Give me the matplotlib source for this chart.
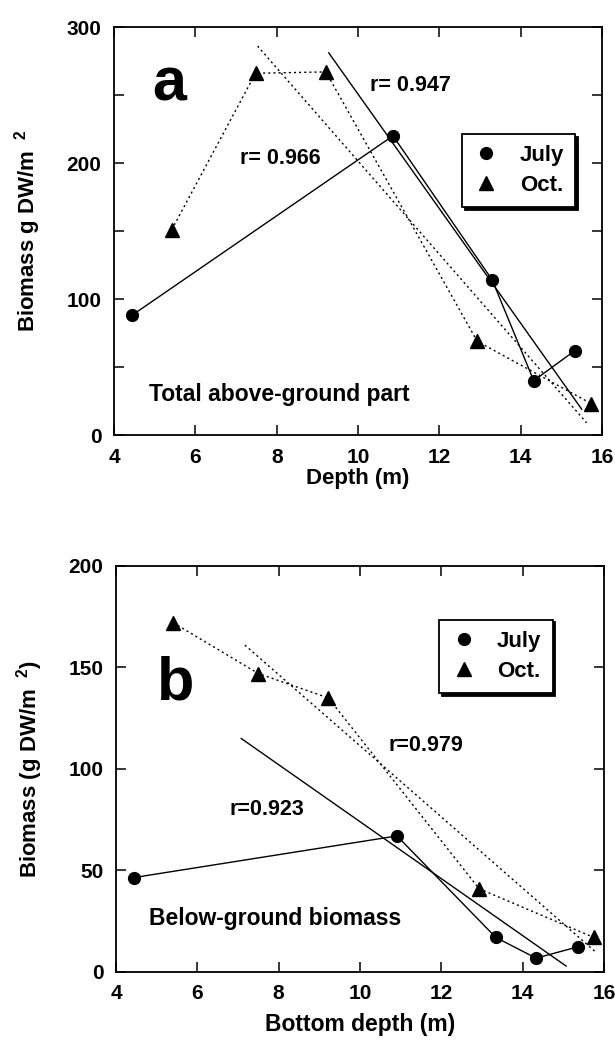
import matplotlib
matplotlib.use("Agg")
import matplotlib.pyplot as plt

plt.rcParams['font.family'] = ['Liberation Sans', 'DejaVu Sans']
plt.rcParams['font.weight'] = 'bold'
plt.rcParams['mathtext.fontset'] = 'custom'
plt.rcParams['mathtext.rm'] = 'Liberation Sans'

# panel a: total above-ground biomass
a_july_x = [4.44, 10.86, 13.3, 14.32, 15.33]
a_july_y = [88, 220, 114, 40, 62]
a_oct_x = [5.42, 7.48, 9.21, 12.93, 15.74]
a_oct_y = [151, 266, 267, 69, 23]
a_fit_july_x = [9.28, 15.5]
a_fit_july_y = [281, 19]
a_fit_oct_x = [7.53, 15.62]
a_fit_oct_y = [286, 9]

# panel b: below-ground biomass
b_july_x = [4.44, 10.91, 13.34, 14.33, 15.36]
b_july_y = [46.5, 67, 17, 6.8, 12.4]
b_oct_x = [5.41, 7.5, 9.22, 12.93, 15.75]
b_oct_y = [172, 147, 135, 41, 17]
b_fit_july_x = [7.08, 15.07]
b_fit_july_y = [115, 2.9]
b_fit_oct_x = [7.17, 15.82]
b_fit_oct_y = [161, 9.4]

xticks = [4, 6, 8, 10, 12, 14, 16]
dots = (0, (1.5, 2.2))


def style_axes(ax, ymax, ylabels):
    ax.set_xlim(4, 16)
    ax.set_ylim(0, ymax)
    ax.set_xticks(xticks)
    ax.set_yticks(list(range(0, ymax + 1, 50)))
    ax.set_yticklabels([str(v) if v in ylabels else '' for v in range(0, ymax + 1, 50)])
    ax.tick_params(direction='in', top=True, right=True, length=7, width=1.1,
                   labelsize=15, pad=9)
    for lab in ax.get_xticklabels() + ax.get_yticklabels():
        lab.set_fontweight('bold')
    for sp in ax.spines.values():
        sp.set_linewidth(1.3)


def draw_panel(ax, jx, jy, ox, oy, fjx, fjy, fox, foy):
    ax.plot(jx, jy, color='black', lw=1.0, marker='o', ms=8.5, label='July')
    ax.plot(ox, oy, color='black', lw=1.0, ls=dots, marker='^', ms=10, label='Oct.')
    ax.plot(fjx, fjy, color='black', lw=1.0)
    ax.plot(fox, foy, color='black', lw=1.0, ls=dots)


def add_legend(ax, anchor):
    leg = ax.legend(loc='upper left', bbox_to_anchor=anchor, fancybox=False,
                    edgecolor='black', framealpha=1, fontsize=16, handlelength=1.2,
                    shadow={'color': 'black', 'alpha': 1}, borderpad=0.5,
                    handletextpad=0.9, labelspacing=0.4)
    leg.get_frame().set_linewidth(1.3)
    for h in leg.get_lines():
        h.set_linestyle('none')


fig = plt.figure(figsize=(6.15, 10.43), dpi=100)

ax1 = fig.add_axes([0.1854, 0.5829, 0.7935, 0.3912])
draw_panel(ax1, a_july_x, a_july_y, a_oct_x, a_oct_y,
           a_fit_july_x, a_fit_july_y, a_fit_oct_x, a_fit_oct_y)
style_axes(ax1, 300, [0, 100, 200, 300])
ax1.set_xlabel('Depth (m)', fontsize=16, fontweight='bold', labelpad=1)
ax1.set_ylabel(r'Biomass g DW/m$^{\ \ 2}$', fontsize=16, fontweight='bold', labelpad=17)
ax1.text(4.95, 246, 'a', fontsize=44, fontweight='bold')
ax1.text(10.3, 253, 'r= 0.947', fontsize=15.5, fontweight='bold')
ax1.text(7.1, 199, 'r= 0.966', fontsize=15.5, fontweight='bold')
ax1.text(4.87, 25, 'Total above-ground part', fontsize=16.5, fontweight='bold')
add_legend(ax1, (0.69, 0.765))

ax2 = fig.add_axes([0.1886, 0.0681, 0.7935, 0.3893])
draw_panel(ax2, b_july_x, b_july_y, b_oct_x, b_oct_y,
           b_fit_july_x, b_fit_july_y, b_fit_oct_x, b_fit_oct_y)
style_axes(ax2, 200, [0, 50, 100, 150, 200])
ax2.set_xlabel('Bottom depth (m)', fontsize=16.5, fontweight='bold', labelpad=7)
ax2.set_ylabel(r'Biomass (g DW/m$^{\ \ 2}$)', fontsize=16, fontweight='bold', labelpad=17)
ax2.text(5.0, 134, 'b', fontsize=44, fontweight='bold')
ax2.text(10.7, 109, 'r=0.979', fontsize=15.5, fontweight='bold')
ax2.text(6.8, 77.5, 'r=0.923', fontsize=15.5, fontweight='bold')
ax2.text(4.8, 23, 'Below-ground biomass', fontsize=16.5, fontweight='bold')
add_legend(ax2, (0.64, 0.895))

fig.savefig('out.png', dpi=100)
